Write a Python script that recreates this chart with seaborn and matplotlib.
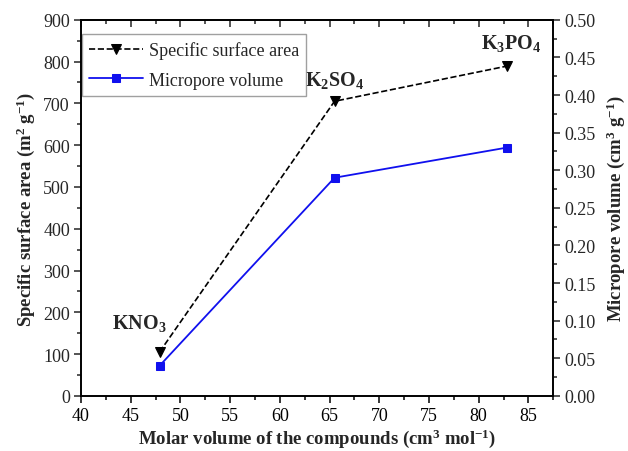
import matplotlib
matplotlib.use("Agg")
import matplotlib.pyplot as plt
import seaborn as sns
import pandas as pd
from matplotlib.ticker import MultipleLocator, FormatStrFormatter

sns.set_theme(style="ticks")
plt.rcParams['font.family'] = ['Liberation Serif', 'DejaVu Serif']
plt.rcParams['mathtext.default'] = 'regular'

compounds = ["KNO$_3$", "K$_2$SO$_4$", "K$_3$PO$_4$"]
molar_volume = [47.9, 65.5, 82.8]
ssa = [105, 705, 789]
micropore = [0.040, 0.290, 0.330]

df = pd.DataFrame({"x": molar_volume, "ssa": ssa, "mp": micropore})

fig = plt.figure(figsize=(6.28, 4.52), dpi=100)
ax = fig.add_axes([0.129, 0.122, 0.752, 0.832])
ax2 = ax.twinx()

sns.lineplot(data=df, x="x", y="ssa", ax=ax, color="black", linestyle="--",
             marker="v", markersize=7, markeredgecolor="black", linewidth=1.2,
             label="Specific surface area", legend=False)
sns.lineplot(data=df, x="x", y="mp", ax=ax2, color="#1010ee", linestyle="-",
             marker="s", markersize=6, markeredgecolor="#1010ee", linewidth=1.3,
             label="Micropore volume", legend=False)

ax.set_xlim(40, 87.5)
ax.set_ylim(0, 900)
ax2.set_ylim(0, 0.50)
ax.xaxis.set_major_locator(MultipleLocator(5))
ax.xaxis.set_minor_locator(MultipleLocator(2.5))
ax.yaxis.set_major_locator(MultipleLocator(100))
ax.yaxis.set_minor_locator(MultipleLocator(50))
ax2.yaxis.set_major_locator(MultipleLocator(0.05))
ax2.yaxis.set_minor_locator(MultipleLocator(0.025))
ax2.yaxis.set_major_formatter(FormatStrFormatter("%.2f"))

for a in (ax, ax2):
    for s in a.spines.values():
        s.set_linewidth(1.2)
        s.set_color("black")
ax.tick_params(axis="x", which="both", direction="out", top=False, labelsize=13, colors="black", pad=3)
ax.tick_params(axis="x", which="major", length=5, width=1.1)
ax.tick_params(axis="x", which="minor", length=3, width=1.1)
ax.tick_params(axis="y", which="major", direction="out", length=5, width=1.1, labelsize=13, pad=3)
ax.tick_params(axis="y", which="minor", direction="out", length=3, width=1.1)
ax2.tick_params(axis="y", which="major", direction="out", length=5, width=1.1, labelsize=13, pad=3)
ax2.tick_params(axis="y", which="minor", direction="out", length=3, width=1.1)
secx = ax.secondary_xaxis("top")
secx.xaxis.set_major_locator(MultipleLocator(5))
secx.xaxis.set_minor_locator(MultipleLocator(2.5))
secx.tick_params(axis="x", which="major", direction="in", length=5, width=1.1, labeltop=False)
secx.tick_params(axis="x", which="minor", direction="in", length=3, width=1.1)
secx.spines["top"].set_linewidth(1.2)

ax.set_xlabel("Molar volume of the compounds (cm$^3$ mol$^{-1}$)",
              fontsize=13.5, fontweight="bold", labelpad=2)
ax.set_ylabel("Specific surface area (m$^2$ g$^{-1}$)",
              fontsize=13.5, fontweight="bold", labelpad=4)
ax2.set_ylabel("Micropore volume (cm$^3$ g$^{-1}$)",
               fontsize=13.5, fontweight="bold", labelpad=6)

offsets = [(-2.0, 45), (0.0, 28), (0.5, 32)]
for name, xv, yv, (dx, dy) in zip(compounds, molar_volume, ssa, offsets):
    ax.text(xv + dx, yv + dy, name, fontsize=14.5, fontweight="bold",
            ha="center", va="bottom")

h1, l1 = ax.get_legend_handles_labels()
h2, l2 = ax2.get_legend_handles_labels()
leg = ax.legend(h1 + h2, l1 + l2, loc="upper left", bbox_to_anchor=(0.002, 0.962),
                fontsize=13, frameon=True, fancybox=False, edgecolor="#888888",
                borderaxespad=0.0, handlelength=3.0, borderpad=0.4,
                labelspacing=0.7, handletextpad=0.3)
leg.get_frame().set_linewidth(1.0)

fig.savefig("out.png", dpi=100)
